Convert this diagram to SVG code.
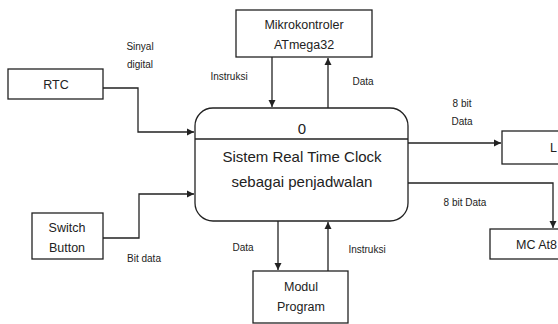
<svg xmlns="http://www.w3.org/2000/svg" width="558" height="324" viewBox="0 0 558 324">
<style>
.box{fill:#fff;stroke:#222;stroke-width:1.3}
.ln{fill:none;stroke:#222;stroke-width:1.3;marker-end:url(#ah)}
text{font-family:"Liberation Sans","DejaVu Sans",sans-serif;fill:#222;text-anchor:middle}
.bl{font-size:12.5px}
.lb{font-size:10px}
.mt{font-size:15px}
</style>
<defs>
<marker id="ah" markerWidth="8" markerHeight="8" refX="7" refY="4" orient="auto" markerUnits="userSpaceOnUse">
<path d="M0,0.5 L7,4 L0,7.5 Z" fill="#222"/>
</marker>
</defs>
<rect width="558" height="324" fill="#fff"/>
<g id="connectors">
<path class="ln" d="M103,88 H138 V132 H194"/>
<path class="ln" d="M103,238 H139 V194 H194"/>
<path class="ln" d="M272,57 V107"/>
<path class="ln" d="M328,108 V58"/>
<path class="ln" d="M408,143 H501"/>
<path class="ln" d="M408,183 H553 V228"/>
<path class="ln" d="M278,221 V270"/>
<path class="ln" d="M328,271 V222"/>
</g>
<g id="labels">
<text class="lb" x="140" y="50">Sinyal</text>
<text class="lb" x="140" y="68">digital</text>
<text class="lb" x="229" y="80">Instruksi</text>
<text class="lb" x="363" y="85">Data</text>
<text class="lb" x="462" y="107">8  bit</text>
<text class="lb" x="462" y="125">Data</text>
<text class="lb" x="465" y="206">8 bit Data</text>
<text class="lb" x="144" y="262">Bit data</text>
<text class="lb" x="243" y="251">Data</text>
<text class="lb" x="367" y="253">Instruksi</text>
</g>
<g id="main">
<rect class="box" x="195" y="108" width="213" height="113" rx="18" ry="18"/>
<line x1="195" y1="139" x2="408" y2="139" stroke="#222" stroke-width="1.3"/>
<text class="mt" x="302" y="134">0</text>
<text class="mt" x="302" y="162">Sistem Real Time Clock</text>
<text class="mt" x="302" y="187">sebagai penjadwalan</text>
</g>
<g id="rtc">
<rect class="box" x="8" y="69" width="95" height="30"/>
<text class="bl" x="56" y="89">RTC</text>
</g>
<g id="switch">
<rect class="box" x="32" y="213" width="71" height="46"/>
<text class="bl" x="67" y="232">Switch</text>
<text class="bl" x="67" y="252">Button</text>
</g>
<g id="mikro">
<rect class="box" x="236" y="10" width="136" height="47"/>
<text class="bl" x="304" y="29">Mikrokontroler</text>
<text class="bl" x="304" y="49">ATmega32</text>
</g>
<g id="modul">
<rect class="box" x="253" y="271" width="95" height="52"/>
<text class="bl" x="301" y="291">Modul</text>
<text class="bl" x="301" y="311">Program</text>
</g>
<g id="lbox">
<rect class="box" x="502" y="131" width="70" height="33"/>
<text class="bl" x="550" y="152" style="text-anchor:start">L</text>
</g>
<g id="mc">
<rect class="box" x="490" y="229" width="80" height="30"/>
<text class="bl" x="516" y="249" style="text-anchor:start">MC At8</text>
</g>
</svg>
